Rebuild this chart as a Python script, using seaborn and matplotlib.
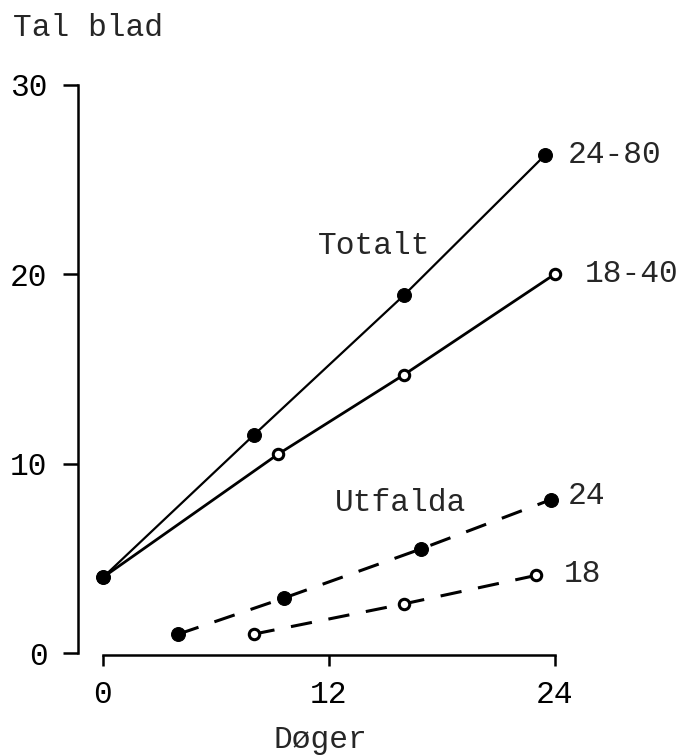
import matplotlib
matplotlib.use("Agg")
import matplotlib.pyplot as plt
import seaborn as sns

# Leaf counts over time (days)
total_hi_x = [0, 8, 16, 23.5]
total_hi_y = [4, 11.5, 18.9, 26.3]
total_lo_x = [0, 9.3, 16, 24]
total_lo_y = [4, 10.5, 14.7, 20]
unfold_hi_x = [4, 9.6, 16.9, 23.8]
unfold_hi_y = [1, 2.9, 5.5, 8.1]
unfold_lo_x = [8, 16, 23]
unfold_lo_y = [1, 2.6, 4.1]

x_ticks = [0, 12, 24]
y_ticks = [0, 10, 20, 30]

sns.set_style("ticks")
plt.rcParams["font.family"] = ["Liberation Mono", "DejaVu Sans Mono"]

fs = 22.5
fig = plt.figure(figsize=(6.82, 7.56), dpi=100)
ax = fig.add_axes([78 / 682, 1 - 655 / 756, 533 / 682, 589 / 756])

filled = dict(color="black", marker="o", markersize=10,
              markerfacecolor="black", markeredgecolor="black")
hollow = dict(color="black", marker="o", markersize=7.5, markeredgewidth=2.2,
              markerfacecolor="white", markeredgecolor="black")
dash = (0, (7, 5.5))

sns.lineplot(x=total_hi_x, y=total_hi_y, ax=ax, linewidth=1.6, **filled)
sns.lineplot(x=total_lo_x, y=total_lo_y, ax=ax, linewidth=2.0, **hollow)
sns.lineplot(x=unfold_hi_x, y=unfold_hi_y, ax=ax, linewidth=2.2,
             linestyle=dash, **filled)
sns.lineplot(x=unfold_lo_x, y=unfold_lo_y, ax=ax, linewidth=2.2,
             linestyle=dash, **hollow)

# shared start point drawn as a filled dot on top
sns.scatterplot(x=[total_hi_x[0]], y=[total_hi_y[0]], ax=ax, color="black",
                s=100, zorder=5, linewidth=0)

ax.set_xlim(-25 / 18.83, 27)
ax.set_ylim(-0.1, 31)
ax.set_xticks(x_ticks)
ax.set_yticks(y_ticks)
ax.set_xticklabels([str(t) for t in x_ticks], fontsize=fs)
ax.set_yticklabels([str(t) for t in y_ticks], fontsize=fs)

for side in ("top", "right"):
    ax.spines[side].set_visible(False)
ax.spines["left"].set_bounds(0, 30)
ax.spines["bottom"].set_bounds(0, 24)
for side in ("left", "bottom"):
    ax.spines[side].set_linewidth(1.8)
    ax.spines[side].set_color("black")

ax.tick_params(axis="y", direction="out", length=11, width=1.8, pad=11,
               colors="black")
ax.tick_params(axis="x", direction="out", length=8, width=1.8, pad=10,
               colors="black")

# series labels
ax.text(24.7, 26.3, "24-80", fontsize=fs, ha="left", va="center")
ax.text(25.6, 20.0, "18-40", fontsize=fs, ha="left", va="center")
ax.text(11.4, 21.5, "Totalt", fontsize=fs, ha="left", va="center")
ax.text(12.3, 7.9, "Utfalda", fontsize=fs, ha="left", va="center")
ax.text(24.7, 8.3, "24", fontsize=fs, ha="left", va="center")
ax.text(24.5, 4.2, "18", fontsize=fs, ha="left", va="center")

# axis titles
fig.text(13 / 682, 1 - 28 / 756, "Tal blad", fontsize=fs, ha="left",
         va="center")
fig.text(320 / 682, 1 - 748 / 756, "Døger", fontsize=fs, ha="center",
         va="baseline")

fig.savefig("out.png", dpi=100, facecolor="white")
